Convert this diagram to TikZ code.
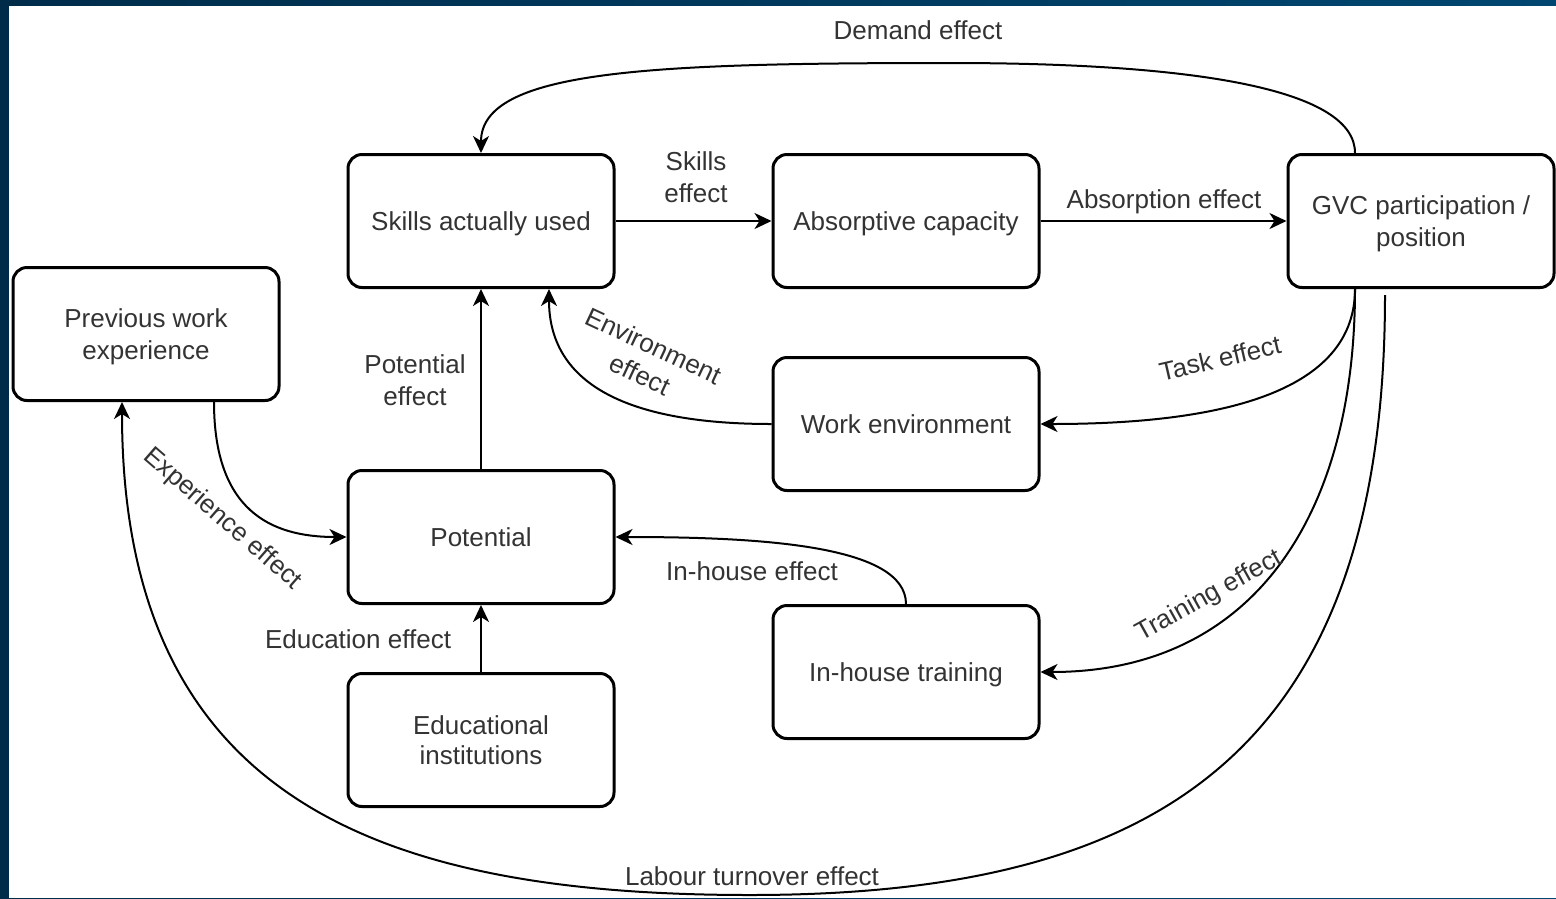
\documentclass[tikz,border=0pt]{standalone}
\usepackage{fontspec}
\setmainfont{Liberation Sans}
\usetikzlibrary{arrows.meta,calc}
\definecolor{txt}{RGB}{51,51,51}
\definecolor{navyL}{RGB}{0,44,74}
\definecolor{navyR}{RGB}{0,70,112}
\begin{document}
\begin{tikzpicture}[x=1pt,y=-1pt,
  box/.style={draw=black, line width=3pt, rounded corners=14pt, fill=white,
    minimum width=266pt, minimum height=133pt, align=center, text=txt,
    font=\fontsize{26}{31.5}\selectfont, inner sep=0pt, text depth=0pt},
  lbl/.style={text=txt, align=center, font=\fontsize{26}{31.5}\selectfont, inner sep=0pt, text depth=0pt},
  conn/.style={draw=black, line width=2pt, -{Stealth[length=17pt,width=16pt,inset=5pt]}}
]
\fill[left color=navyL, right color=navyR] (0,0) rectangle (1556,898);
\fill[white] (9,6) rectangle (1556,898);
\useasboundingbox (0,0) rectangle (1556,898);

% boxes
\node[box] (sau) at (481,221) {Skills actually used};
\node[box] (abs) at (906,221) {Absorptive capacity};
\node[box] (gvc) at (1421,221) {GVC participation /\\position};
\node[box] (pwe) at (146,334) {Previous work\\experience};
\node[box] (pot) at (481,537) {Potential};
\node[box] (wen) at (906,424) {Work environment};
\node[box] (edu) at (481,740) {Educational\\[-1pt]institutions};
\node[box] (iht) at (906,672) {In-house training};

% helper coordinates
\coordinate (gvcA) at ($(gvc.north)+(-66,0)$);
\coordinate (gvcB) at ($(gvc.south)+(-66,0)$);
\coordinate (gvcC) at ($(gvc.south)+(-36,6)$);
\coordinate (sauB) at ($(sau.south)+(68,0)$);
\coordinate (pweA) at ($(pwe.south)+(-24,0)$);
\coordinate (pweB) at ($(pwe.south)+(68,0)$);
\coordinate (topmid) at (950,63);
\coordinate (botmid) at (750,895);

% connectors
\draw[conn] (sau.east) -- (abs.west);
\draw[conn] (abs.east) -- (gvc.west);
\draw[conn] (pot.north) -- (sau.south);
\draw[conn] (edu.north) -- (pot.south);
\draw[conn] (gvcA) .. controls (1355,90) and (1200,63) .. (topmid)
  .. controls (650,63) and (481,70) .. (sau.north);
\draw[conn] (gvcB) .. controls (1355,400) and (1200,424) .. (wen.east);
\draw[conn] (wen.west) .. controls (620,424) and (549,380) .. (sauB);
\draw[conn] (gvcB) .. controls (1355,520) and (1250,672) .. (iht.east);
\draw[conn] (gvcC) .. controls (1385,760) and (1150,895) .. (botmid)
  .. controls (380,895) and (122,800) .. (pweA);
\draw[conn] (iht.north) .. controls (906,545) and (760,537) .. (pot.east);
\draw[conn] (pweB) .. controls (214,510) and (270,537) .. (pot.west);

% labels
\node[lbl] (lDemand) at (918,30) {Demand effect};
\node[lbl] (lSkills) at (696,177) {Skills\\effect};
\node[lbl] (lAbs) at (1164,199) {Absorption effect};
\node[lbl, rotate=-25] (lEnv) at (647,360) {Environment\\effect};
\node[lbl, rotate=13] (lTask) at (1220,358) {Task effect};
\node[lbl] (lPot) at (415,380) {Potential\\effect};
\node[lbl, rotate=-41] (lExp) at (224,517) {Experience effect};
\node[lbl] (lIn) at (752,571) {In-house effect};
\node[lbl, rotate=29] (lTrain) at (1208,594) {Training effect};
\node[lbl] (lEdu) at (358,639) {Education effect};
\node[lbl] (lLab) at (752,876) {Labour turnover effect};
\end{tikzpicture}
\end{document}
